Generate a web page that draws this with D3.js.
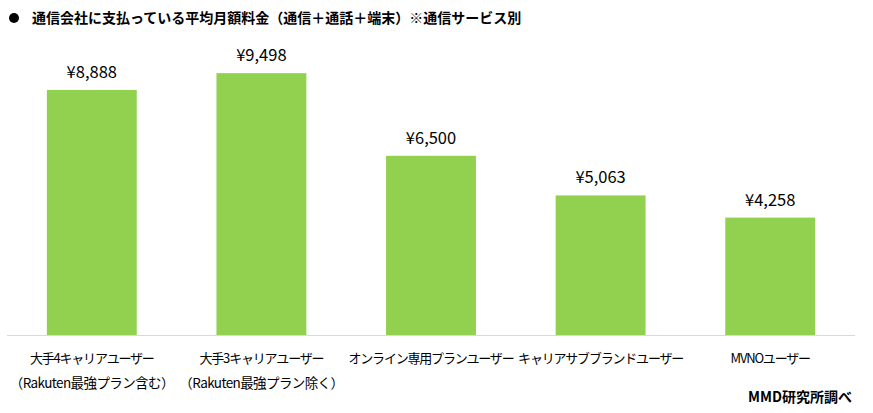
<!DOCTYPE html>
<html><head><meta charset="utf-8">
<script src="https://cdn.jsdelivr.net/npm/d3@7"></script>
<style>body{margin:0;background:#fff;}svg{display:block;font-family:"Noto Sans CJK JP","Noto Sans",sans-serif;}</style>
</head><body>
<script>
const categories = [
  ["大手4キャリアユーザー","（Rakuten最強プラン含む）"],
  ["大手3キャリアユーザー","（Rakuten最強プラン除く）"],
  ["オンライン専用プランユーザー"],
  ["キャリアサブブランドユーザー"],
  ["MVNOユーザー"]
];
const values = [8888, 9498, 6500, 5063, 4258];
const valueLabels = ["¥8,888","¥9,498","¥6,500","¥5,063","¥4,258"];
const title = "通信会社に支払っている平均月額料金（通信＋通話＋端末）※通信サービス別";
const source = "MMD研究所調べ";

const W = 873, H = 413;
const svg = d3.select("body").append("svg").attr("width", W).attr("height", H);

const x = d3.scaleBand().domain(d3.range(values.length)).range([7, 855]).paddingInner(0.47).paddingOuter(0.235);
const y = d3.scaleLinear().domain([0, 10000]).range([335, 59.3]);

svg.append("circle").attr("cx", 14).attr("cy", 18).attr("r", 5).attr("fill", "#000");
svg.append("text").attr("x", 32).attr("y", 23).attr("font-size", 14).attr("font-weight", "bold").attr("fill", "#000").text(title);

svg.selectAll("rect.bar").data(values).join("rect").attr("class", "bar")
  .attr("x", (d, i) => x(i)).attr("width", x.bandwidth())
  .attr("y", d => y(d)).attr("height", d => y(0) - y(d))
  .attr("fill", "#92D050");

svg.append("line").attr("x1", 7).attr("x2", 855).attr("y1", 335.5).attr("y2", 335.5).attr("stroke", "#d9d9d9").attr("stroke-width", 1);

svg.selectAll("text.val").data(values).join("text").attr("class", "val")
  .attr("x", (d, i) => x(i) + x.bandwidth() / 2).attr("y", d => y(d) - 12)
  .attr("text-anchor", "middle").attr("font-size", 16.5).attr("fill", "#000")
  .text((d, i) => valueLabels[i]);

const cat = svg.selectAll("text.cat").data(categories).join("text").attr("class", "cat")
  .attr("text-anchor", "middle").attr("fill", "#000");
cat.selectAll("tspan").data((d, i) => d.map(s => ({s, i}))).join("tspan")
  .attr("x", d => x(d.i) + x.bandwidth() / 2)
  .attr("y", (d, j) => 363 + j * 25)
  .attr("font-size", (d, j) => j === 0 ? 13 : 13.5)
  .attr("letter-spacing", (d, j) => j === 0 ? -1.2 : -0.6)
  .text(d => d.s);

svg.append("text").attr("x", 852).attr("y", 402).attr("text-anchor", "end").attr("font-size", 14).attr("font-weight", "bold").attr("fill", "#000").text(source);
</script>
</body></html>
